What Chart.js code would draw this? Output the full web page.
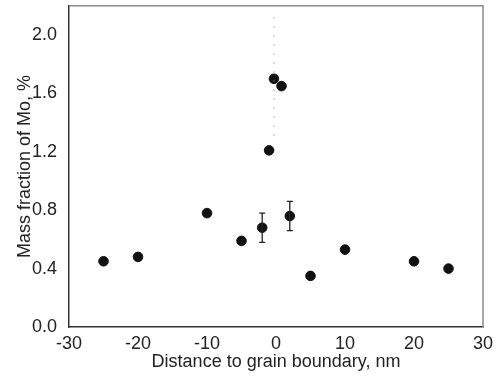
<!DOCTYPE html>
<html>
<head>
<meta charset="utf-8">
<script src="https://cdn.jsdelivr.net/npm/chart.js@4"></script>
<style>
  html, body { margin: 0; padding: 0; background: #fff; }
  #wrap { width: 500px; height: 382px; }
</style>
</head>
<body>
<div id="wrap"><canvas id="chart"></canvas></div>
<script>
// distance to grain boundary (nm) and Mo mass fraction (%)
const distances = [-25, -20, -10, -5, -2, -1, -0.3, 0.8, 2, 5, 10, 20, 25]
const massFraction = [0.45, 0.48, 0.78, 0.59, 0.68, 1.21, 1.70, 1.65, 0.76, 0.35, 0.53, 0.45, 0.40]
// error half-widths (0 = no bar drawn)
const errors = [0, 0, 0, 0, 0.1, 0, 0, 0, 0.1, 0, 0, 0, 0]
// faint dotted guide through the boundary
const guideX = [-0.3, -0.3]
const guideY = [2.12, 1.3]

const xTicks = [-30, -20, -10, 0, 10, 20, 30]
const yTicks = [0, 0.4, 0.8, 1.2, 1.6, 2.0]

const font = { family: "'Liberation Sans', Arial, sans-serif", size: 18 }

const errorBars = {
  id: 'errorBars',
  afterDatasetsDraw (chart) {
    const { ctx, scales: { x, y } } = chart
    ctx.save()
    ctx.strokeStyle = '#222'
    ctx.lineWidth = 1.3
    distances.forEach((d, i) => {
      if (!errors[i]) return
      const px = x.getPixelForValue(d)
      const top = y.getPixelForValue(massFraction[i] + errors[i])
      const bot = y.getPixelForValue(massFraction[i] - errors[i])
      ctx.beginPath()
      ctx.moveTo(px, top); ctx.lineTo(px, bot)
      ctx.moveTo(px - 3, top); ctx.lineTo(px + 3, top)
      ctx.moveTo(px - 3, bot); ctx.lineTo(px + 3, bot)
      ctx.stroke()
    })
    ctx.restore()
  }
}

const frame = {
  id: 'frame',
  beforeDatasetsDraw (chart) {
    const { ctx, chartArea: a } = chart
    ctx.save()
    ctx.strokeStyle = '#8a8a8a'
    ctx.lineWidth = 1.5
    ctx.beginPath()
    ctx.moveTo(a.left, a.top); ctx.lineTo(a.right, a.top); ctx.lineTo(a.right, a.bottom)
    ctx.stroke()
    ctx.restore()
  }
}

new Chart(document.getElementById('chart'), {
  type: 'scatter',
  data: {
    datasets: [
      {
        data: guideX.map((v, i) => ({ x: v, y: guideY[i] })),
        showLine: true,
        borderColor: '#888',
        borderWidth: 1.2,
        borderDash: [1, 8],
        pointRadius: 0
      },
      {
        data: distances.map((d, i) => ({ x: d, y: massFraction[i] })),
        backgroundColor: '#111',
        borderColor: '#111',
        pointRadius: 4.8,
        pointHoverRadius: 4.8
      }
    ]
  },
  options: {
    responsive: true,
    maintainAspectRatio: false,
    animation: false,
    layout: { padding: { left: 13, top: 5, right: 17, bottom: 11 } },
    plugins: { legend: { display: false }, tooltip: { enabled: false } },
    scales: {
      x: {
        min: -30,
        max: 30,
        afterBuildTicks: (axis) => { axis.ticks = xTicks.map(v => ({ value: v })) },
        grid: { display: false, drawTicks: false },
        border: { color: '#333', width: 1.5 },
        ticks: { color: '#222', font, padding: 6, maxRotation: 0 },
        title: { display: true, text: 'Distance to grain boundary, nm', color: '#222', font: { ...font, lineHeight: 1 }, padding: { top: -7.6, bottom: 0 } }
      },
      y: {
        min: 0,
        max: 2.2,
        afterBuildTicks: (axis) => { axis.ticks = yTicks.map(v => ({ value: v })) },
        afterFit: (axis) => { axis.paddingTop = 0 },
        grid: { display: false, drawTicks: false },
        border: { color: '#333', width: 1.5 },
        ticks: { color: '#222', font, padding: 12, callback: (v) => v.toFixed(1) },
        title: { display: true, text: 'Mass fraction of Mo, %', color: '#222', font: { ...font, lineHeight: 1 }, padding: { top: 3, bottom: -14 } }
      }
    }
  },
  plugins: [frame, errorBars]
})
</script>
</body>
</html>
